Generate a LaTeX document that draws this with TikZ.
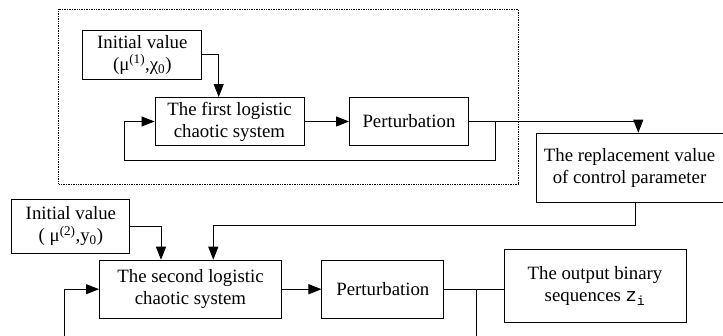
\documentclass[tikz,border=0pt]{standalone}
\usepackage{fontspec}
\setmainfont{Liberation Serif}
\newfontfamily\monofont{Liberation Mono}
\usetikzlibrary{arrows.meta}
\begin{document}
\begin{tikzpicture}[x=1pt, y=-1pt, line width=0.9pt,
  >={Triangle[length=13pt,width=10pt]},
  font=\fontsize{18.8}{22}\selectfont,
  main/.style = {draw, rectangle, align=center, inner sep=0pt}]
  \useasboundingbox (0,0) rectangle (723,336);
  \draw[densely dotted, line width=0.7pt] (58.7,9.3) rectangle (518.3,184);
  \node[main, minimum width=119pt, minimum height=49pt] (init1) at (142.3,54.7) {Initial value\\(μ\textsuperscript{(1)},χ\textsubscript{0})};
  \node[main, minimum width=149pt, minimum height=48pt] (sys1) at (229.5,121.5) {The first logistic\\chaotic system};
  \node[main, minimum width=119pt, minimum height=48pt] (pert1) at (409,121.5) {Perturbation};
  \node[main, minimum width=187pt, minimum height=69pt] (repl) at (629.5,167.7) {The replacement value\\of control parameter};
  \node[main, minimum width=118pt, minimum height=54pt] (init2) at (70.9,226.3) {Initial value\\( μ\textsuperscript{(2)},y\textsubscript{0})};
  \node[main, minimum width=182pt, minimum height=58pt] (sys2) at (190.5,289.2) {The second logistic\\chaotic system};
  \node[main, minimum width=122pt, minimum height=58pt] (pert2) at (382.9,289.2) {Perturbation};
  \node[main, minimum width=182pt, minimum height=73pt] (out) at (595,286) {The output binary\\sequences {\monofont z}\textsubscript{\monofont i}};
  \coordinate (fb1) at (495,121.5);
  \coordinate (lp1) at (124.7,160);
  \coordinate (back) at (213.3,225);
  \coordinate (fb2) at (476.7,336);
  \coordinate (lp2) at (64.7,336);
  \draw[->] (init1.east) -| ([xshift=-10.8pt]sys1.north);
  \draw[->] (sys1) -- (pert1);
  \draw[->] (pert1.east) -| ([xshift=8.8pt]repl.north);
  \draw[->] (fb1) |- (lp1) |- (sys1.west);
  \draw[->] ([xshift=5.8pt]repl.south) |- (back) -- (back |- sys2.north);
  \draw[->] (init2.east) -| ([xshift=-29.5pt]sys2.north);
  \draw[->] (sys2) -- (pert2);
  \draw (pert2.east) -- (pert2.east -| out.west);
  \draw (fb2 |- pert2.east) -- (fb2);
  \draw[->] (lp2) |- (sys2.west);
\end{tikzpicture}
\end{document}
